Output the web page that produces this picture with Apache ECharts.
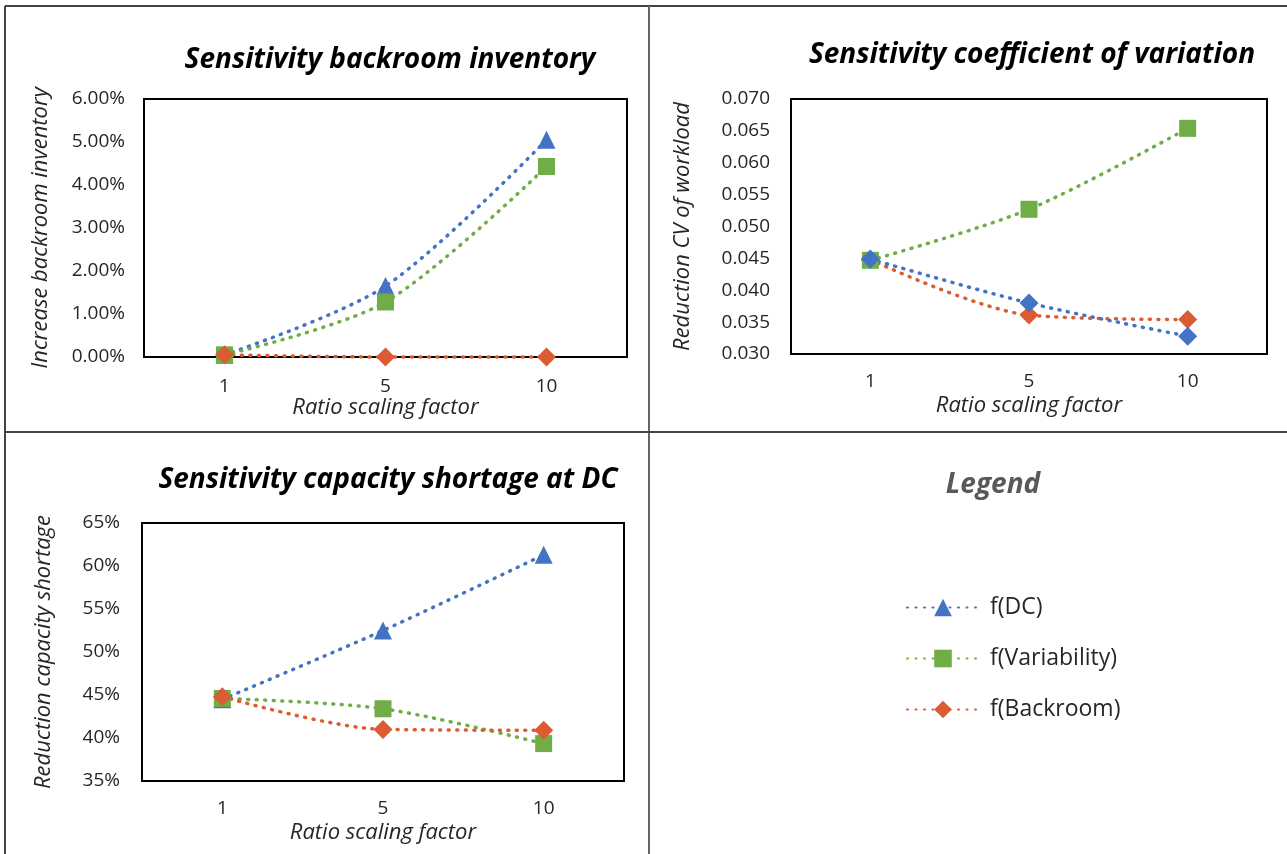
<!DOCTYPE html>
<html>
<head>
<meta charset="utf-8">
<style>
  html, body { margin: 0; padding: 0; background: #fff; }
  #main { width: 1287px; height: 854px; }
</style>
<script src="https://cdn.jsdelivr.net/npm/echarts@6/dist/echarts.min.js"></script>
</head>
<body>
<div id="main"></div>
<script>
// x categories (ratio scaling factor)
var categories = ['1', '5', '10'];

// backroom inventory increase (%)
var biDC = [0.05, 1.65, 5.05];
var biVar = [0.05, 1.28, 4.43];
var biBack = [0.05, 0, 0];

// reduction CV of workload
var cvDC = [0.0449, 0.0380, 0.0328];
var cvVar = [0.0447, 0.0527, 0.0654];
var cvBack = [0.0448, 0.0361, 0.0354];

// reduction capacity shortage (%)
var csDC = [44.5, 52.5, 61.3];
var csVar = [44.6, 43.4, 39.35];
var csBack = [44.8, 41.0, 40.9];

var legendNames = ['f(DC)', 'f(Variability)', 'f(Backroom)'];

var BLUE = '#4472C4', GREEN = '#70AD47', RED = '#DB5B33';
var FONT = '"Open Sans", "Noto Sans", sans-serif';
var dots = [1, 7.5];

function line(name, color, symbol, size, idx, data) {
	return {
		name: name,
		type: 'line',
		xAxisIndex: idx,
		yAxisIndex: idx,
		data: data,
		smooth: 0.3,
		clip: false,
		symbol: symbol,
		symbolSize: size,
		itemStyle: { color: color },
		lineStyle: { color: color, width: 3.5, type: dots, cap: 'round' },
		emphasis: { disabled: true }
	};
}

function titleOf(text, x, y) {
	return {
		text: text, left: x, top: y, textAlign: 'center',
		textStyle: { fontFamily: FONT, fontSize: 28, fontWeight: 'bold', fontStyle: 'italic', color: '#000' }
	};
}

function xAx(idx, margin, nameGap) {
	return {
		type: 'category', gridIndex: idx, data: categories,
		axisTick: { show: false },
		axisLine: { show: false },
		axisLabel: { fontFamily: FONT, fontSize: 19, color: '#262626', margin: margin },
		name: 'Ratio scaling factor', nameLocation: 'middle', nameGap: nameGap,
		nameTextStyle: { fontFamily: FONT, fontSize: 22, fontStyle: 'italic', color: '#262626' }
	};
}

function yAx(idx, name, min, max, interval, fmt, margin, nameGap) {
	return {
		type: 'value', gridIndex: idx, min: min, max: max, interval: interval,
		splitLine: { show: false },
		axisTick: { show: false },
		axisLine: { show: false },
		axisLabel: { fontFamily: FONT, fontSize: 19, color: '#262626', margin: margin, formatter: fmt },
		name: name, nameLocation: 'middle', nameGap: nameGap,
		nameTextStyle: { fontFamily: FONT, fontSize: 22, fontStyle: 'italic', color: '#262626' }
	};
}

var gridBox = { show: true, borderColor: '#000', borderWidth: 2, backgroundColor: 'transparent' };

var option = {
	animation: false,
	title: [
		titleOf('Sensitivity backroom inventory', 385, 41),
		titleOf('Sensitivity coefficient of variation', 1027, 36),
		titleOf('Sensitivity capacity shortage at DC', 383, 461),
		{
			text: 'Legend', left: 988, top: 466, textAlign: 'center',
			textStyle: { fontFamily: FONT, fontSize: 28, fontWeight: 'bold', fontStyle: 'italic', color: '#595959' }
		}
	],
	legend: {
		data: legendNames,
		orient: 'vertical',
		left: 901,
		top: 591,
		itemWidth: 72,
		itemHeight: 22,
		itemGap: 28,
		selectedMode: false,
		textStyle: { fontFamily: FONT, fontSize: 23, color: '#262626', padding: [0, 0, 0, 6] }
	},
	grid: [
		Object.assign({ left: 144, top: 99, width: 483, height: 258 }, gridBox),
		Object.assign({ left: 791, top: 99, width: 476, height: 255 }, gridBox),
		Object.assign({ left: 142, top: 523, width: 482, height: 258 }, gridBox)
	],
	xAxis: [xAx(0, 20, 39), xAx(1, 18, 41), xAx(2, 18, 41)],
	yAxis: [
		yAx(0, 'Increase backroom inventory', 0, 6, 1, function (v) { return v.toFixed(2) + '%'; }, 19, 92),
		yAx(1, 'Reduction CV of workload', 0.03, 0.07, 0.005, function (v) { return v.toFixed(3); }, 21, 97),
		yAx(2, 'Reduction capacity shortage', 35, 65, 5, function (v) { return Math.round(v) + '%'; }, 22, 87)
	],
	graphic: [
		{ type: 'line', shape: { x1: 5, y1: 6, x2: 1287, y2: 6 }, style: { stroke: '#444', lineWidth: 2 } },
		{ type: 'line', shape: { x1: 5, y1: 6, x2: 5, y2: 854 }, style: { stroke: '#444', lineWidth: 2 } },
		{ type: 'line', shape: { x1: 649, y1: 6, x2: 649, y2: 854 }, style: { stroke: '#666', lineWidth: 2 } },
		{ type: 'line', shape: { x1: 5, y1: 432, x2: 1287, y2: 432 }, style: { stroke: '#444', lineWidth: 2 } }
	],
	series: [
		line('f(DC)', BLUE, 'triangle', 18, 0, biDC),
		line('f(Variability)', GREEN, 'rect', 17, 0, biVar),
		line('f(Backroom)', RED, 'diamond', 19, 0, biBack),

		line('f(Backroom)', RED, 'diamond', 19, 1, cvBack),
		line('f(Variability)', GREEN, 'rect', 17, 1, cvVar),
		line('f(DC)', BLUE, 'diamond', 19, 1, cvDC),

		line('f(DC)', BLUE, 'triangle', 18, 2, csDC),
		line('f(Variability)', GREEN, 'rect', 17, 2, csVar),
		line('f(Backroom)', RED, 'diamond', 19, 2, csBack)
	]
};

var myChart = echarts.init(document.getElementById('main'));
myChart.setOption(option);
</script>
</body>
</html>
